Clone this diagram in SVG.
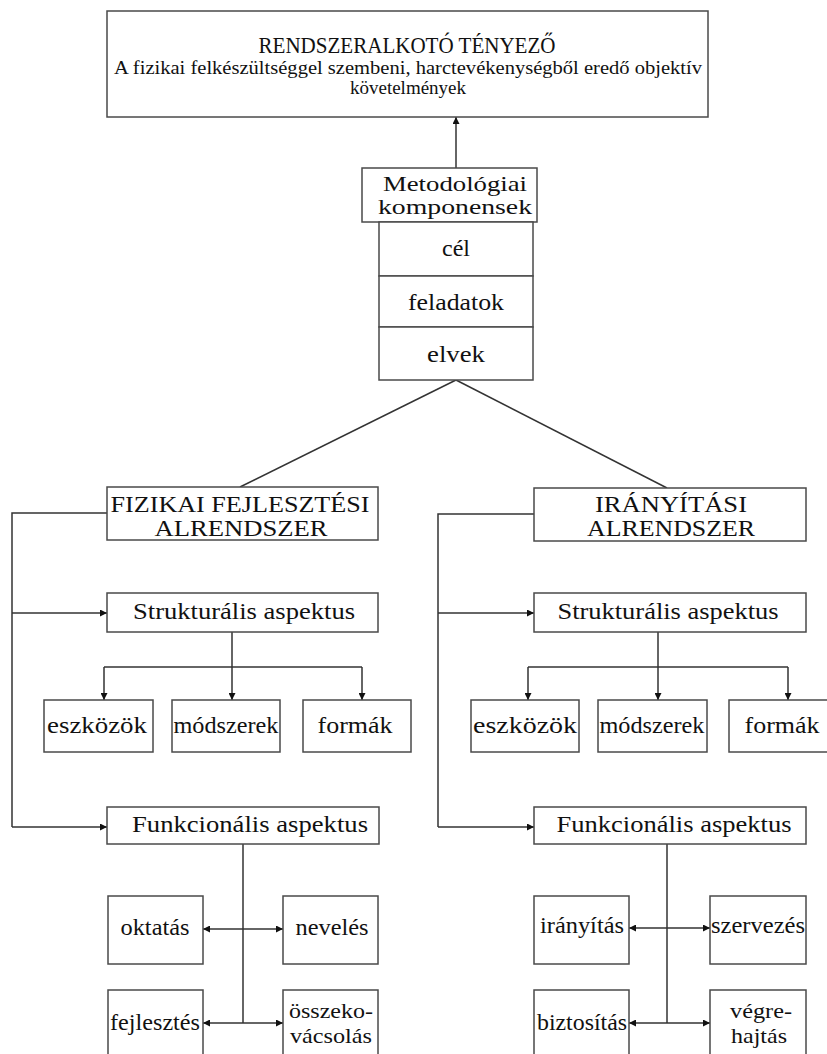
<svg xmlns="http://www.w3.org/2000/svg" width="827" height="1054" viewBox="0 0 827 1054" font-family="'Liberation Serif', 'Times New Roman', serif">
<defs>
<style>
rect{fill:#fff;stroke:#4a4a4a;stroke-width:1.5}
text{font-family:"Liberation Serif","Times New Roman",serif;fill:#111;text-anchor:middle}
.c line,.c polyline{stroke:#333;stroke-width:1.5;fill:none}
.a{marker-end:url(#ah)}
.t{font-size:24px}
</style>
<marker id="ah" viewBox="0 0 10 10" refX="10" refY="5" markerWidth="8" markerHeight="7" orient="auto" markerUnits="userSpaceOnUse"><path d="M0,0 L10,5 L0,10 z" fill="#111"/></marker>
</defs>
<rect x="0" y="0" width="827" height="1054" style="fill:#fff;stroke:none"/>
<g class="c" id="connectors">
<line class="a" x1="456" y1="168" x2="456" y2="117"/>
<line x1="456" y1="380" x2="240" y2="487"/>
<line x1="456" y1="380" x2="667" y2="488"/>
<polyline points="107,513 12,513 12,827"/>
<line class="a" x1="12" y1="613" x2="107" y2="613"/>
<line class="a" x1="12" y1="827" x2="107" y2="827"/>
<line x1="232" y1="632" x2="232" y2="667"/>
<line x1="104" y1="667" x2="362" y2="667"/>
<line class="a" x1="104" y1="667" x2="104" y2="700"/>
<line class="a" x1="232" y1="667" x2="232" y2="700"/>
<line class="a" x1="362" y1="667" x2="362" y2="700"/>
<line x1="243" y1="844" x2="243" y2="1023"/>
<line class="a" x1="243" y1="929" x2="203" y2="929"/>
<line class="a" x1="243" y1="929" x2="283" y2="929"/>
<line class="a" x1="243" y1="1023" x2="203" y2="1023"/>
<line class="a" x1="243" y1="1023" x2="283" y2="1023"/>
<polyline points="534,514 438,514 438,827"/>
<line class="a" x1="438" y1="613" x2="534" y2="613"/>
<line class="a" x1="438" y1="827" x2="534" y2="827"/>
<line x1="658" y1="632" x2="658" y2="667"/>
<line x1="528" y1="667" x2="788" y2="667"/>
<line class="a" x1="528" y1="667" x2="528" y2="700"/>
<line class="a" x1="658" y1="667" x2="658" y2="700"/>
<line class="a" x1="788" y1="667" x2="788" y2="700"/>
<line x1="667" y1="844" x2="667" y2="1023"/>
<line class="a" x1="667" y1="928" x2="629" y2="928"/>
<line class="a" x1="667" y1="928" x2="710" y2="928"/>
<line class="a" x1="667" y1="1023" x2="629" y2="1023"/>
<line class="a" x1="667" y1="1023" x2="710" y2="1023"/>
</g>
<g id="rendszeralkoto">
<rect x="107" y="11" width="601" height="106"/>
<text x="407" y="53" font-size="24" textLength="297" lengthAdjust="spacingAndGlyphs">RENDSZERALKOTÓ TÉNYEZŐ</text>
<text x="408" y="74" font-size="19" textLength="588" lengthAdjust="spacingAndGlyphs">A fizikai felkészültséggel szembeni, harctevékenységből eredő objektív</text>
<text x="408" y="94" font-size="19">követelmények</text>
</g>
<g id="metodologiai">
<rect x="362" y="168" width="175" height="54"/>
<text x="455" y="191" font-size="22" textLength="144" lengthAdjust="spacingAndGlyphs">Metodológiai</text>
<text x="455" y="214" font-size="22" textLength="154" lengthAdjust="spacingAndGlyphs">komponensek</text>
</g>
<g id="cel"><rect x="379" y="222" width="154" height="54"/><text class="t" x="456" y="256">cél</text></g>
<g id="feladatok"><rect x="379" y="276" width="154" height="51"/><text class="t" x="456" y="310" textLength="96" lengthAdjust="spacingAndGlyphs">feladatok</text></g>
<g id="elvek"><rect x="379" y="327" width="154" height="53"/><text class="t" x="456" y="362" textLength="58" lengthAdjust="spacingAndGlyphs">elvek</text></g>
<g id="fizikai">
<rect x="107" y="487" width="271" height="53"/>
<text x="240" y="512" font-size="24" textLength="259" lengthAdjust="spacingAndGlyphs">FIZIKAI FEJLESZTÉSI</text>
<text x="241" y="536" font-size="24" textLength="173" lengthAdjust="spacingAndGlyphs">ALRENDSZER</text>
</g>
<g id="iranyitasi">
<rect x="534" y="488" width="272" height="53"/>
<text x="671" y="512" font-size="24" textLength="152" lengthAdjust="spacingAndGlyphs">IRÁNYÍTÁSI</text>
<text x="671" y="536" font-size="24" textLength="168" lengthAdjust="spacingAndGlyphs">ALRENDSZER</text>
</g>
<g id="strukt-l"><rect x="107" y="593" width="271" height="39"/><text class="t" x="244" y="619" textLength="222" lengthAdjust="spacingAndGlyphs">Strukturális aspektus</text></g>
<g id="strukt-r"><rect x="534" y="593" width="272" height="39"/><text class="t" x="668" y="619" textLength="221" lengthAdjust="spacingAndGlyphs">Strukturális aspektus</text></g>
<g id="eszkozok-l"><rect x="44" y="700" width="109" height="52"/><text class="t" x="97" y="733" textLength="100" lengthAdjust="spacingAndGlyphs">eszközök</text></g>
<g id="modszerek-l"><rect x="172" y="700" width="108" height="52"/><text class="t" x="226" y="733" textLength="105" lengthAdjust="spacingAndGlyphs">módszerek</text></g>
<g id="formak-l"><rect x="303" y="700" width="108" height="52"/><text class="t" x="355" y="733" textLength="75" lengthAdjust="spacingAndGlyphs">formák</text></g>
<g id="eszkozok-r"><rect x="471" y="700" width="108" height="52"/><text class="t" x="525" y="733" textLength="104" lengthAdjust="spacingAndGlyphs">eszközök</text></g>
<g id="modszerek-r"><rect x="598" y="700" width="109" height="52"/><text class="t" x="652" y="733" textLength="105" lengthAdjust="spacingAndGlyphs">módszerek</text></g>
<g id="formak-r"><rect x="729" y="700" width="108" height="52"/><text class="t" x="782" y="733" textLength="75" lengthAdjust="spacingAndGlyphs">formák</text></g>
<g id="funk-l"><rect x="107" y="807" width="272" height="37"/><text class="t" x="250" y="832" textLength="236" lengthAdjust="spacingAndGlyphs">Funkcionális aspektus</text></g>
<g id="funk-r"><rect x="534" y="807" width="272" height="37"/><text class="t" x="674" y="832" textLength="235" lengthAdjust="spacingAndGlyphs">Funkcionális aspektus</text></g>
<g id="oktatas"><rect x="108" y="896" width="95" height="68"/><text class="t" x="155" y="935" textLength="69" lengthAdjust="spacingAndGlyphs">oktatás</text></g>
<g id="neveles"><rect x="283" y="896" width="95" height="68"/><text class="t" x="332" y="935" textLength="73" lengthAdjust="spacingAndGlyphs">nevelés</text></g>
<g id="fejlesztes"><rect x="108" y="990" width="95" height="70"/><text class="t" x="155" y="1030" textLength="90" lengthAdjust="spacingAndGlyphs">fejlesztés</text></g>
<g id="osszekovacsolas"><rect x="283" y="990" width="95" height="70"/><text x="331" y="1018" font-size="22" textLength="84" lengthAdjust="spacingAndGlyphs">összeko-</text><text x="331" y="1043" font-size="22" textLength="82" lengthAdjust="spacingAndGlyphs">vácsolás</text></g>
<g id="iranyitas"><rect x="534" y="896" width="95" height="68"/><text class="t" x="582" y="933" textLength="84" lengthAdjust="spacingAndGlyphs">irányítás</text></g>
<g id="szervezes"><rect x="710" y="896" width="96" height="68"/><text class="t" x="758" y="933" textLength="94" lengthAdjust="spacingAndGlyphs">szervezés</text></g>
<g id="biztositas"><rect x="534" y="990" width="95" height="70"/><text class="t" x="582" y="1030" textLength="90" lengthAdjust="spacingAndGlyphs">biztosítás</text></g>
<g id="vegrehajtas"><rect x="710" y="990" width="96" height="70"/><text x="761" y="1018" font-size="22" textLength="62" lengthAdjust="spacingAndGlyphs">végre-</text><text x="759" y="1043" font-size="22" textLength="56" lengthAdjust="spacingAndGlyphs">hajtás</text></g>
</svg>
